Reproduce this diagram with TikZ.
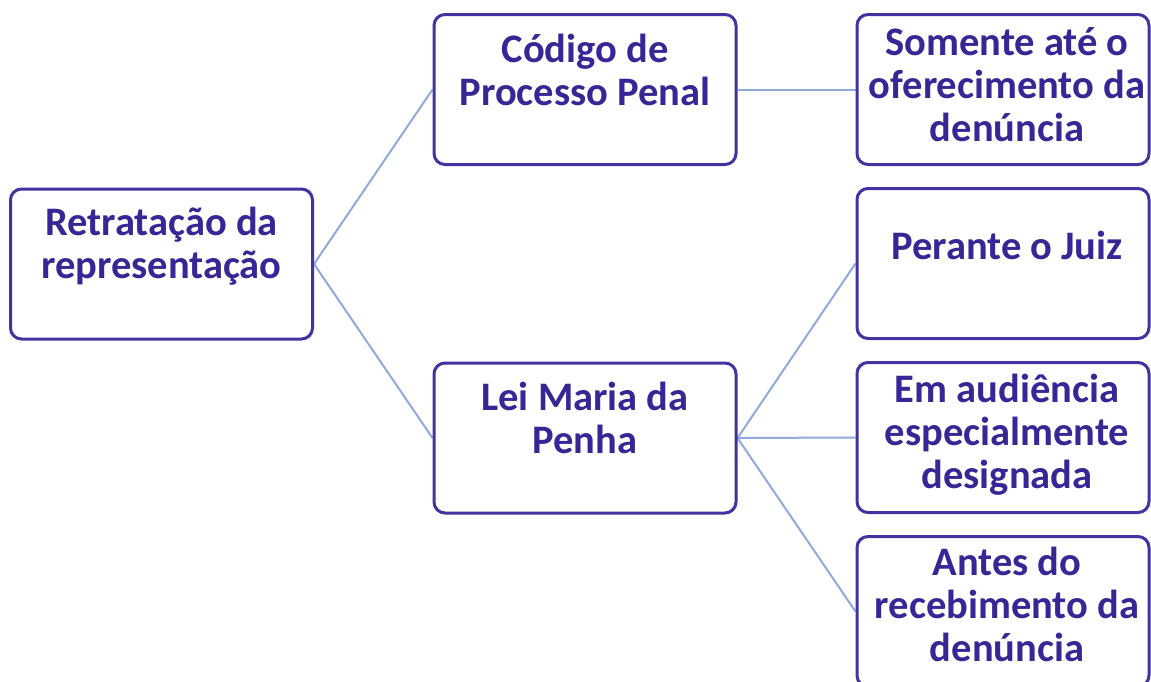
\documentclass[tikz,border=0pt]{standalone}
\usepackage{fontspec}
\setmainfont{Carlito}
\usetikzlibrary{backgrounds}
\definecolor{textcol}{RGB}{54,38,150}
\definecolor{bordercol}{RGB}{66,50,162}
\definecolor{linkcol}{RGB}{143,170,220}
\begin{document}
\begin{tikzpicture}[x=1pt,y=-1pt,
  box/.style={draw=bordercol, line width=3pt, rounded corners=11pt, fill=white,
    minimum width=302pt, minimum height=150pt, inner sep=0pt},
  rbox/.style={box, minimum width=292pt},
  txt/.style={font=\fontsize{40.5}{43}\selectfont\bfseries, text=textcol, inner sep=0pt, anchor=base},
  link/.style={draw=linkcol, line width=2pt}]
\useasboundingbox (0,0) rectangle (1151,681);
\begin{scope}[on background layer]
\fill[white] (0,0) rectangle (1151,681);
\end{scope}
% boxes
\node[box] (root) at (161.5,264) {};
\node[box] (cpp) at (585,89.5) {};
\node[box] (lei) at (585,438) {};
\node[rbox] (som) at (1003,89.5) {};
\node[rbox] (per) at (1003,263.5) {};
\node[rbox] (aud) at (1003,437.5) {};
\node[rbox] (ant) at (1003,611.5) {};
% texts
\node[txt] (troot) at (161.5,235) {\parbox[t]{300pt}{\centering Retratação da\\representação}};
\node[txt] (tcpp) at (585,62) {\parbox[t]{300pt}{\centering Código de\\Processo Penal}};
\node[txt] (tlei) at (585,410) {\parbox[t]{300pt}{\centering Lei Maria da\\Penha}};
\node[txt] (tsom) at (1007,55) {\parbox[t]{300pt}{\centering Somente até o\\oferecimento da\\denúncia}};
\node[txt] (tper) at (1007,259) {\parbox[t]{300pt}{\centering Perante o Juiz}};
\node[txt] (taud) at (1007,402) {\parbox[t]{300pt}{\centering Em audiência\\especialmente\\designada}};
\node[txt] (tant) at (1007,575) {\parbox[t]{300pt}{\centering Antes do\\recebimento da\\denúncia}};
% connectors
\begin{scope}[on background layer]
\draw[link] (root.east) -- (cpp.west);
\draw[link] (root.east) -- (lei.west);
\draw[link] (cpp.east) -- (som.west);
\draw[link] (lei.east) -- (per.west);
\draw[link] (lei.east) -- (aud.west);
\draw[link] (lei.east) -- (ant.west);
\end{scope}
\end{tikzpicture}
\end{document}
